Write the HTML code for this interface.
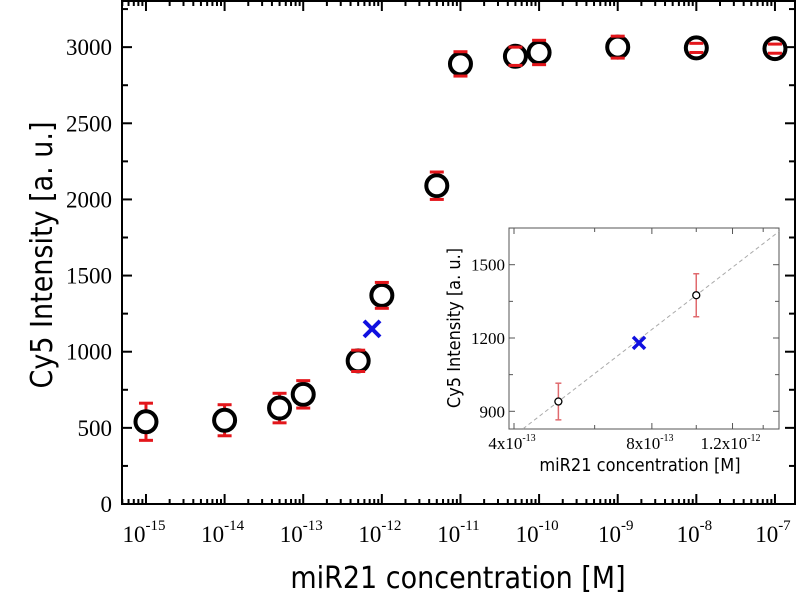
<!DOCTYPE html>
<html><head><meta charset="utf-8"><style>
html,body{margin:0;padding:0;background:#fff;}
svg{display:block;}
.tk{font-family:"Liberation Serif",serif;font-size:23px;fill:#000;}
.tki{font-family:"Liberation Serif",serif;font-size:17px;fill:#000;}
.ttl{font-family:"DejaVu Sans Condensed","DejaVu Sans",sans-serif;font-size:30px;fill:#000;}
.ttli{font-family:"DejaVu Sans Condensed","DejaVu Sans",sans-serif;font-size:18px;fill:#000;}
</style></head><body>
<svg id="chart" width="800" height="595" viewBox="0 0 800 595" xmlns="http://www.w3.org/2000/svg">
<g id="main"></g>
<g id="inset"></g>
</svg>
<script>
const concs=[1e-15,1e-14,5e-14,1e-13,5e-13,1e-12,5e-12,1e-11,5e-11,1e-10,1e-9,1e-8,1e-7];
const intens=[540,550,630,720,940,1370,2090,2890,2940,2965,3000,2995,2990];
const errs=[122,102,97,90,70,85,90,80,60,80,72,30,30];
const unknownX=[7.5e-13];
const unknownY=[1150];
const yTicks=[0,500,1000,1500,2000,2500,3000];
const xDecades=[-15,-14,-13,-12,-11,-10,-9,-8,-7];
const insetConcs=[5e-13,1e-12];
const insetIntens=[940,1375];
const insetErrs=[75,88];
const insetUnknownX=[7.5e-13];
const insetUnknownY=[1180];
const insetYTicks=[900,1200,1500];
const insetXTicks=[4e-13,8e-13,1.2e-12];
const insetXLabels=["4x10","8x10","1.2x10"];
const insetXExps=["-13","-13","-12"];

const NS="http://www.w3.org/2000/svg";
function mk(parent,tag,attrs,text){const e=document.createElementNS(NS,tag);for(const k in attrs)e.setAttribute(k,attrs[k]);if(text!==undefined)e.textContent=text;parent.appendChild(e);return e;}

const L=122,R=795,T=1,B=504;
const xMin=-15.305,xMax=-6.745,yMin=0,yMax=3303;
const sx=v=>L+(Math.log10(v)-xMin)/(xMax-xMin)*(R-L);
const sy=v=>B-(v-yMin)/(yMax-yMin)*(B-T);
const g=document.getElementById('main');
let frame=mk(g,'rect',{x:L,y:T,width:R-L,height:B-T,fill:'none',stroke:'#000','stroke-width':2});


for(let v=0;v<=3250;v+=250){
  const major=v%500===0;const len=major?10:6;
  let t=mk(g,'line',{x1:L,x2:L+len,y1:sy(v),y2:sy(v),stroke:'#000','stroke-width':2});
  
  
  let t2=mk(g,'line',{x1:R,x2:R-len,y1:sy(v),y2:sy(v),stroke:'#000','stroke-width':2});
  
  
}
yTicks.forEach(v=>{
  let tx=mk(g,'text',{x:L-10,y:sy(v)+8,'text-anchor':'end',class:'tk'},String(v));
  
  
});
for(let d=-16;d<=-7;d++){
  for(let m=1;m<10;m++){
    const v=m*Math.pow(10,d);const lv=Math.log10(v);
    if(lv<xMin||lv>xMax)continue;
    const len=m===1?10:5;
    let t=mk(g,'line',{x1:sx(v),x2:sx(v),y1:B,y2:B-len,stroke:'#000','stroke-width':2});
    
    
    let t2=mk(g,'line',{x1:sx(v),x2:sx(v),y1:T,y2:T+len,stroke:'#000','stroke-width':2});
    
    
  }
}
xDecades.forEach(d=>{
  const x=sx(Math.pow(10,d));
  let tx=mk(g,'text',{x:x-2,y:542,'text-anchor':'middle',class:'tk'});
  
  
  mk(tx,'tspan',{},'10');
  mk(tx,'tspan',{dy:-12,'font-size':15},String(d));
});
let yl=mk(g,'text',{x:0,y:0,'text-anchor':'middle',class:'ttl',transform:'translate(52,255) rotate(-90)'},'Cy5 Intensity [a. u.]');


let xl=mk(g,'text',{x:458,y:588,'text-anchor':'middle',class:'ttl'},'miR21 concentration [M]');


concs.forEach((c,i)=>{
  const x=sx(c),y=intens[i],e=errs[i];
  const gg=mk(g,'g',{});
  
  
  mk(gg,'line',{x1:x,x2:x,y1:sy(y-e),y2:sy(y+e),stroke:'#e3161b','stroke-width':3});
  mk(gg,'circle',{cx:x,cy:sy(y),r:10.5,fill:'#fff',stroke:'#000','stroke-width':4});
  mk(gg,'line',{x1:x-7,x2:x+7,y1:sy(y-e),y2:sy(y-e),stroke:'#e3161b','stroke-width':3});
  mk(gg,'line',{x1:x-7,x2:x+7,y1:sy(y+e),y2:sy(y+e),stroke:'#e3161b','stroke-width':3});
});
unknownX.forEach((c,i)=>{
  const x=sx(c),y=sy(unknownY[i]),s=8;
  const gg=mk(g,'g',{stroke:'#1010e0','stroke-width':4});
  
  
  mk(gg,'line',{x1:x-s,y1:y-s,x2:x+s,y2:y+s});
  mk(gg,'line',{x1:x-s,y1:y+s,x2:x+s,y2:y-s});
});

const iL=509,iR=779,iT=228,iB=429;
const ix0=4e-13,ixPx=514,ixDec=458;
const iy0=1200,iyPx=338,iyPer=73.3/300;
const isx=v=>ixPx+(Math.log10(v)-Math.log10(ix0))*ixDec;
const isy=v=>iyPx-(v-iy0)*iyPer;
const ig=document.getElementById('inset');
let ibg=mk(ig,'rect',{x:iL,y:iT,width:iR-iL,height:iB-iT,fill:'#fff',stroke:'#555','stroke-width':1});


{
  const x1=Math.log10(insetConcs[0]),x2=Math.log10(insetConcs[1]);
  const k=(insetIntens[1]-insetIntens[0])/(x2-x1);
  const f=lx=>insetIntens[0]+k*(lx-x1);
  const lxA=Math.log10(ix0)+(iL+14-ixPx)/ixDec, lxB=Math.log10(ix0)+(iR-ixPx)/ixDec;
  let fl=mk(ig,'line',{x1:iL+14,y1:isy(f(lxA)),x2:iR,y2:isy(f(lxB)),stroke:'#aaa','stroke-width':1,'stroke-dasharray':'4,3'});
  
  
}
for(let v=900;v<=1650;v+=150){
  const len=(v%300===0)?6:4;
  let t=mk(ig,'line',{x1:iL,x2:iL+len,y1:isy(v),y2:isy(v),stroke:'#555','stroke-width':1});
  
  
  let t2=mk(ig,'line',{x1:iR,x2:iR-len,y1:isy(v),y2:isy(v),stroke:'#555','stroke-width':1});
  
  
}
insetYTicks.forEach(v=>{
  let tx=mk(ig,'text',{x:iL-4,y:isy(v)+6,'text-anchor':'end',class:'tki'},String(v));
  
  
});
for(let m=4;m<=14;m+=2){
  const v=m*1e-13;const x=isx(v);if(x>iR)continue;
  const len=(m%4===0)?6:4;
  let t=mk(ig,'line',{x1:x,x2:x,y1:iB,y2:iB-len,stroke:'#555','stroke-width':1});
  
  
  let t2=mk(ig,'line',{x1:x,x2:x,y1:iT,y2:iT+len,stroke:'#555','stroke-width':1});
  
  
}
insetXTicks.forEach((v,i)=>{
  let tx=mk(ig,'text',{x:isx(v)-2,y:449,'text-anchor':'middle',class:'tki'});
  
  
  mk(tx,'tspan',{},insetXLabels[i]);
  mk(tx,'tspan',{dy:-8,'font-size':10},insetXExps[i]);
});
let iyl=mk(ig,'text',{x:0,y:0,'text-anchor':'middle',class:'ttli',transform:'translate(460,328) rotate(-90)'},'Cy5 Intensity [a. u.]');


let ixl=mk(ig,'text',{x:640,y:471,'text-anchor':'middle',class:'ttli'},'miR21 concentration [M]');


insetConcs.forEach((c,i)=>{
  const x=isx(c),y=insetIntens[i],e=insetErrs[i];
  const gg=mk(ig,'g',{});
  
  
  mk(gg,'line',{x1:x,x2:x,y1:isy(y-e),y2:isy(y+e),stroke:'#e06a6e','stroke-width':1.5});
  mk(gg,'line',{x1:x-3,x2:x+3,y1:isy(y-e),y2:isy(y-e),stroke:'#e06a6e','stroke-width':1.5});
  mk(gg,'line',{x1:x-3,x2:x+3,y1:isy(y+e),y2:isy(y+e),stroke:'#e06a6e','stroke-width':1.5});
  mk(gg,'circle',{cx:x,cy:isy(y),r:3.5,fill:'#fff',stroke:'#000','stroke-width':1.3});
});
insetUnknownX.forEach((c,i)=>{
  const x=isx(c),y=isy(insetUnknownY[i]),s=6;
  const gg=mk(ig,'g',{stroke:'#1010e0','stroke-width':3.5});
  
  
  mk(gg,'line',{x1:x-s,y1:y-s,x2:x+s,y2:y+s});
  mk(gg,'line',{x1:x-s,y1:y+s,x2:x+s,y2:y-s});
});
</script>
</body></html>
